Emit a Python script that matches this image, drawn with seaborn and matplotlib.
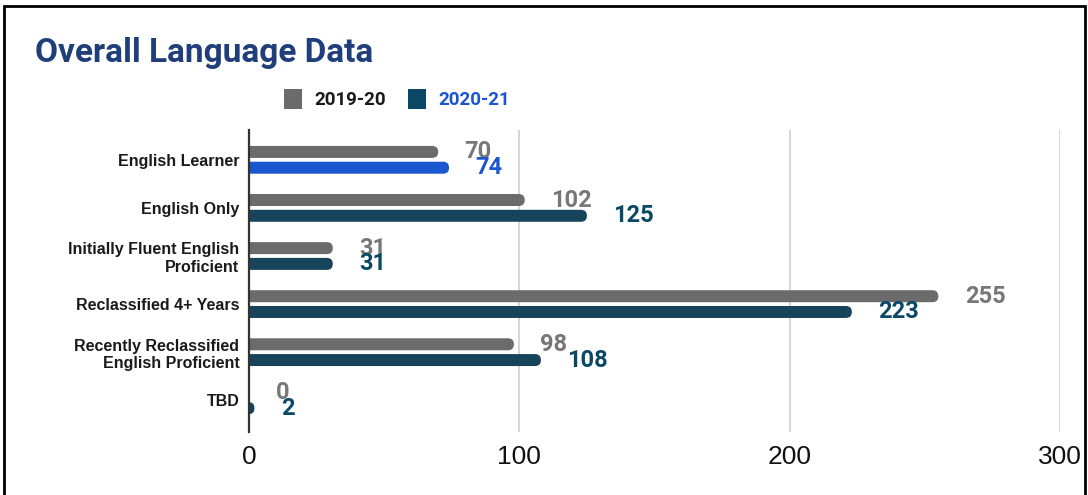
import pandas as pd
import matplotlib.pyplot as plt
import seaborn as sns
from matplotlib.patches import FancyBboxPatch, Patch, Rectangle

# 데이터
categories = ['English Learner', 'English Only', 'Initially Fluent English\nProficient',
              'Reclassified 4+ Years', 'Recently Reclassified\nEnglish Proficient', 'TBD']
years = ['2019-20', '2020-21']
values_1920 = [70, 102, 31, 255, 98, 0]
values_2021 = [74, 125, 31, 223, 108, 2]

df = pd.DataFrame({
    'Category': categories * 2,
    'Year': [years[0]] * len(categories) + [years[1]] * len(categories),
    'Count': values_1920 + values_2021,
})

gray = '#6b6b6b'
teal = '#0b4866'
bright = '#1a56cf'

sns.set_style('white')
plt.rcParams['font.family'] = ['Liberation Sans', 'DejaVu Sans']

fig = plt.figure(figsize=(10.88, 4.95), dpi=100)
ax = fig.add_axes([249 / 1088, 1 - 432 / 495, 811 / 1088, 302 / 495])

sns.barplot(data=df, y='Category', x='Count', hue='Year', orient='h',
            palette=[gray, teal], width=0.656, gap=0.24, legend=False, ax=ax)

# 값 라벨
lbl_gray = ax.bar_label(ax.containers[0], padding=19, fontsize=17, fontweight='bold',
                        color='#777777', family='Roboto')
lbl_teal = ax.bar_label(ax.containers[1], padding=19, fontsize=17, fontweight='bold',
                        color=teal, family='Roboto')
lbl_teal[0].set_color(bright)

ax.set_xlim(0, 300)
ax.set_ylim(5.66, -0.62)

# 둥근 막대 끝
r_px = 6.0
px_x = 811 / 300
px_y = 302 / 6.28
bars = list(ax.patches)
for i, p in enumerate(bars):
    x, y, w, h = p.get_x(), p.get_y(), p.get_width(), p.get_height()
    fc = p.get_facecolor()
    if i == len(categories):
        fc = bright
    p.remove()
    rx = r_px / px_x
    aspect = (r_px / px_y) / rx
    rr = min(rx, (w + rx) / 2)
    ax.add_patch(FancyBboxPatch((x - rx, y), w + rx, h,
                                boxstyle=f'round,pad=0,rounding_size={rr}',
                                mutation_aspect=aspect, fc=fc, ec='none', zorder=2))

ax.set_xticks([0, 100, 200, 300])
ax.grid(axis='x', color='#d0d0d0', lw=1.2)
ax.grid(axis='y', visible=False)
ax.set_axisbelow(True)
for s in ['top', 'right', 'bottom']:
    ax.spines[s].set_visible(False)
ax.spines['left'].set_color('#333333')
ax.spines['left'].set_linewidth(1.6)
ax.spines['left'].set_zorder(3)
ax.tick_params(axis='x', length=0, pad=9, labelsize=19, labelcolor='#111111')
ax.tick_params(axis='y', length=0, pad=7, labelsize=11.5)
for t in ax.get_yticklabels():
    t.set_fontweight('bold')
    t.set_color('#1a1a1a')
ax.set_xlabel('')
ax.set_ylabel('')

# 제목
fig.text(35 / 1088, 1 - 62 / 495, 'Overall Language Data', fontsize=24, fontweight='bold',
         color='#1f3e7a', family='Roboto', va='baseline')

# 범례
handles = [Patch(fc=gray, ec='none'), Patch(fc=teal, ec='none')]
leg = fig.legend(handles, years, loc='center', bbox_to_anchor=(397 / 1088, 1 - 99 / 495),
                 ncol=2, frameon=False, handlelength=0.95, handleheight=1.25,
                 handletextpad=0.65, columnspacing=1.2,
                 prop={'family': 'Roboto', 'weight': 'bold', 'size': 13.5})
leg.get_texts()[0].set_color('#1a1a1a')
leg.get_texts()[1].set_color(bright)

# 테두리
fig.patches.append(Rectangle((4 / 1088, -0.05), 1081 / 1088, 1.05 - 6 / 495,
                             transform=fig.transFigure, fill=False, ec='black', lw=2))

plt.savefig('out.png', dpi=100)
